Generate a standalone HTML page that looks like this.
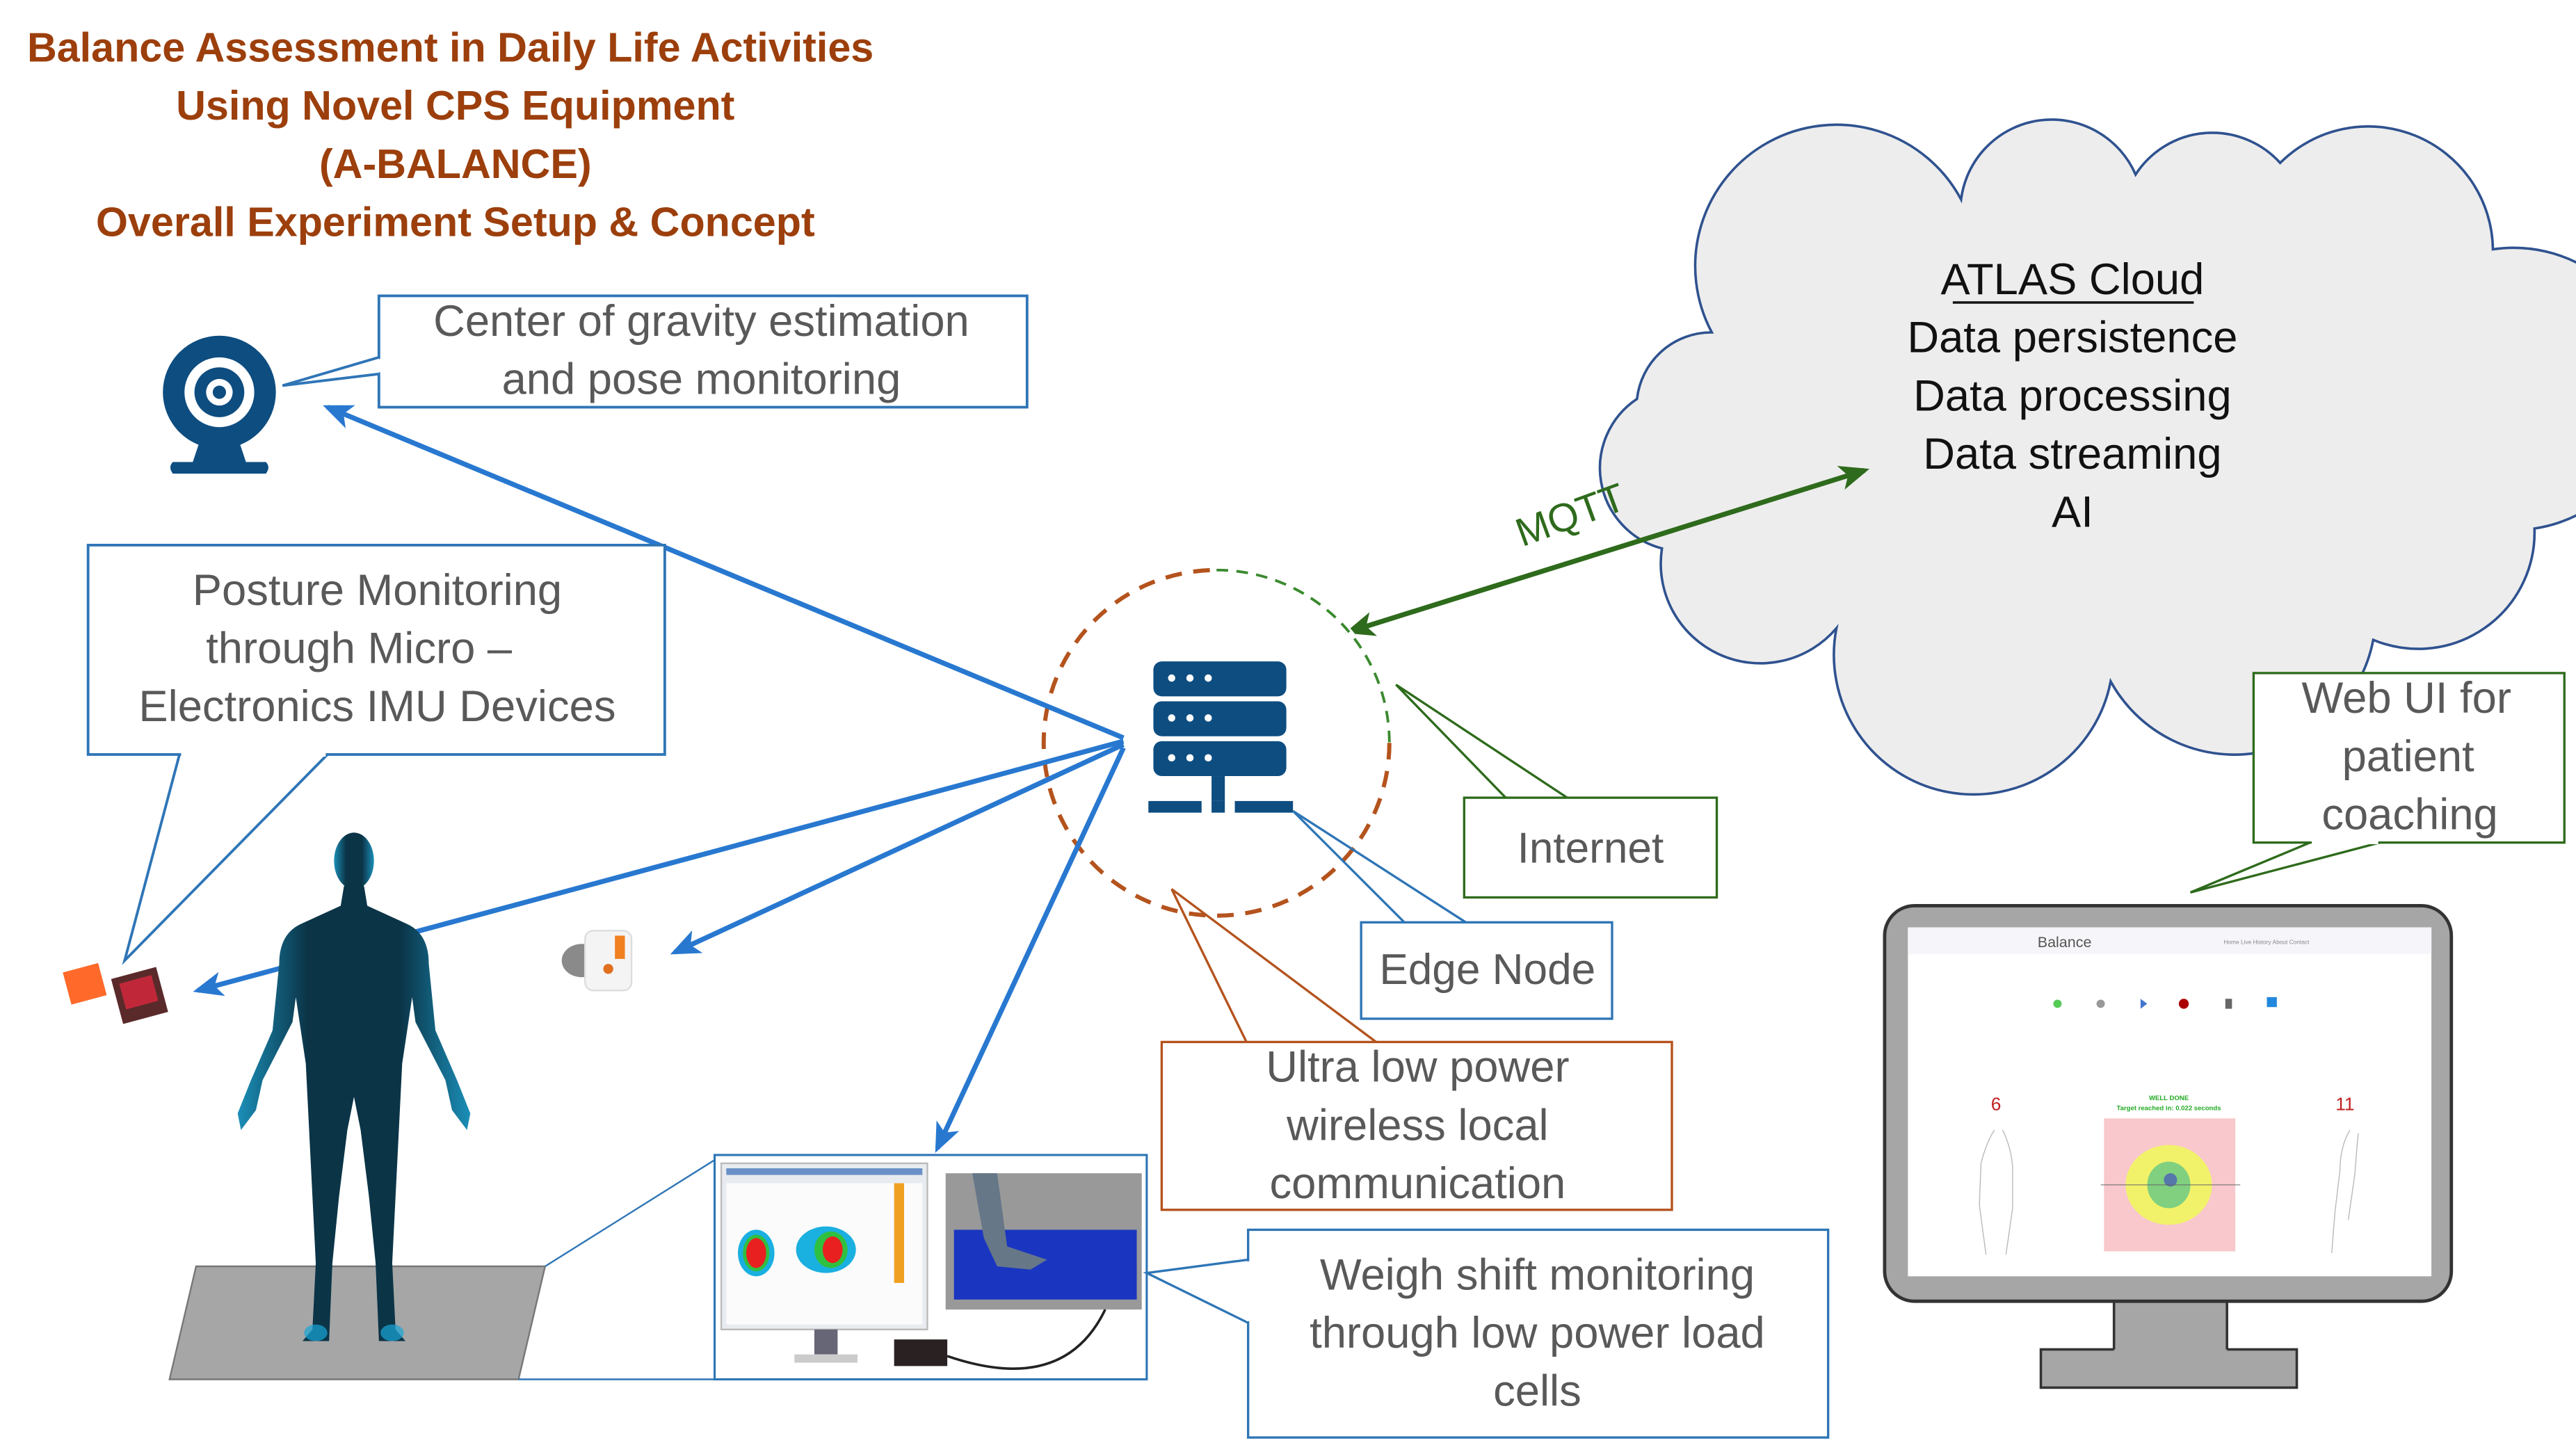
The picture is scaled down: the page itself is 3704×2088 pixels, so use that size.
<!DOCTYPE html>
<html><head><meta charset="utf-8"><style>
html,body{margin:0;padding:0;background:#fff;}
svg{display:block;}
text{font-family:"Liberation Sans",sans-serif;}
</style></head><body>
<svg width="3704" height="2088" viewBox="0 0 1550 873.7" xmlns="http://www.w3.org/2000/svg">
<defs>
<marker id="ab" markerWidth="6" markerHeight="6" refX="5" refY="3" orient="auto" markerUnits="strokeWidth"><path d="M0,0.5 L6,3 L0,5.5 L1.5,3 Z" fill="#2878d0"/></marker>
<marker id="ag" markerWidth="6" markerHeight="6" refX="5" refY="3" orient="auto" markerUnits="strokeWidth"><path d="M0,0.5 L6,3 L0,5.5 L1.5,3 Z" fill="#2e6b1c"/></marker>
<marker id="ags" markerWidth="6" markerHeight="6" refX="1" refY="3" orient="auto" markerUnits="strokeWidth"><path d="M6,0.5 L0,3 L6,5.5 L4.5,3 Z" fill="#2e6b1c"/></marker>
<linearGradient id="hb" x1="0" y1="0" x2="1" y2="0"><stop offset="0" stop-color="#1b8fb8"/><stop offset="0.3" stop-color="#0b3447"/><stop offset="0.7" stop-color="#0b3447"/><stop offset="1" stop-color="#1b8fb8"/></linearGradient>
</defs>

<!-- Title -->
<g fill="#9c3f0c" font-size="24.8" font-weight="bold" text-anchor="middle">
<text x="271" y="37">Balance Assessment in Daily Life Activities</text>
<text x="274" y="72">Using Novel CPS Equipment</text>
<text x="274" y="107">(A-BALANCE)</text>
<text x="274" y="142">Overall Experiment Setup &amp; Concept</text>
</g>

<!-- Cloud -->
<path d="M1030,200 A80,80 0 0 1 1180,120 A55,55 0 0 1 1285,105 A55,55 0 0 1 1372,98 A75,75 0 0 1 1500,150 A75,75 0 0 1 1525,318 A70,70 0 0 1 1428,385 A85,85 0 0 1 1270,410 A80,80 0 0 1 1105,378 A60,60 0 0 1 1000,330 A50,50 0 0 1 985,240 A45,45 0 0 1 1030,200 Z" fill="#ededed" stroke="#2f528f" stroke-width="1.5"/>
<g font-size="26.5" text-anchor="middle" fill="#111">
<text x="1247" y="177">ATLAS Cloud</text>
<line x1="1175" y1="182" x2="1320" y2="182" stroke="#111" stroke-width="1.5"/>
<text x="1247" y="212">Data persistence</text>
<text x="1247" y="247">Data processing</text>
<text x="1247" y="282">Data streaming</text>
<text x="1247" y="317">AI</text>
</g>

<!-- MQTT -->
<text x="945" y="318" font-size="24" fill="#2e6b1c" text-anchor="middle" transform="rotate(-20 945 310)">MQTT</text>
<line x1="812" y1="380" x2="1122" y2="283" stroke="#2e6b1c" stroke-width="3" marker-end="url(#ag)" marker-start="url(#ags)"/>

<!-- Dashed circle -->
<circle cx="732" cy="447" r="104" fill="none" stroke="#b4531d" stroke-width="2.5" stroke-dasharray="10,7"/>
<path d="M732,343 A104,104 0 0 1 836,447" fill="none" stroke="#fff" stroke-width="4"/>
<path d="M732,343 A104,104 0 0 1 836,447" fill="none" stroke="#3a8a2e" stroke-width="1.6" stroke-dasharray="7,5"/>

<!-- Server icon -->
<g fill="#0e4d80">
<rect x="694" y="398" width="80" height="21" rx="5"/>
<rect x="694" y="422" width="80" height="21" rx="5"/>
<rect x="694" y="446" width="80" height="21" rx="5"/>
<rect x="729" y="467" width="8" height="15"/>
<rect x="691" y="482" width="32" height="7"/>
<rect x="729" y="482" width="8" height="7"/>
<rect x="743" y="482" width="35" height="7"/>
</g>
<g fill="#fff">
<circle cx="705" cy="408" r="2.2"/><circle cx="716" cy="408" r="2.2"/><circle cx="727" cy="408" r="2.2"/>
<circle cx="705" cy="432" r="2.2"/><circle cx="716" cy="432" r="2.2"/><circle cx="727" cy="432" r="2.2"/>
<circle cx="705" cy="456" r="2.2"/><circle cx="716" cy="456" r="2.2"/><circle cx="727" cy="456" r="2.2"/>
</g>

<!-- Camera icon -->
<g>
<circle cx="132" cy="236" r="34" fill="#0e4d80"/>
<circle cx="132" cy="236" r="21" fill="#fff"/>
<circle cx="132" cy="236" r="15" fill="#0e4d80"/>
<circle cx="132" cy="236" r="8" fill="#fff"/>
<circle cx="132" cy="236" r="4" fill="#0e4d80"/>
<path d="M120,266 L144,266 L148,278 L160,278 Q163,281 160,285 L104,285 Q101,281 104,278 L116,278 Z" fill="#0e4d80"/>
</g>

<!-- Blue arrows -->
<g stroke="#2878d0" stroke-width="3" fill="none">
<line x1="676" y1="444" x2="197" y2="245" marker-end="url(#ab)"/>
<line x1="676" y1="446" x2="119" y2="596" marker-end="url(#ab)"/>
<line x1="676" y1="448" x2="406" y2="573" marker-end="url(#ab)"/>
<line x1="676" y1="450" x2="564" y2="691" marker-end="url(#ab)"/>
</g>

<!-- Center of gravity box -->
<rect x="228" y="178" width="390" height="67" fill="#fff" stroke="#2e75b6" stroke-width="1.6"/>
<path d="M228,215 L170,232 L228,225" fill="#fff" stroke="#2e75b6" stroke-width="1.6"/>
<line x1="228" y1="216" x2="228" y2="224" stroke="#fff" stroke-width="2"/>
<g font-size="26.5" fill="#595959" text-anchor="middle">
<text x="422" y="202">Center of gravity estimation</text>
<text x="422" y="237">and pose monitoring</text>
</g>

<!-- Posture box -->
<rect x="53" y="328" width="347" height="126" fill="#fff" stroke="#2e75b6" stroke-width="1.6"/>
<path d="M108,454 L75,578 L197,454" fill="none" stroke="#2e75b6" stroke-width="1.6"/>
<line x1="109" y1="454" x2="196" y2="454" stroke="#fff" stroke-width="2.5"/>
<g font-size="26.5" fill="#595959" text-anchor="middle">
<text x="227" y="364">Posture Monitoring</text>
<text x="216" y="399">through Micro –</text>
<text x="227" y="434">Electronics IMU Devices</text>
</g>

<!-- IMU devices -->
<rect x="40" y="582" width="22" height="20" fill="#ff6a2a" transform="rotate(-15 51 592)"/>
<rect x="70" y="585" width="28" height="28" fill="#5a2a2a" transform="rotate(-15 84 599)"/>
<rect x="74" y="589" width="20" height="16" fill="#c0283a" transform="rotate(-15 84 599)"/>
<!-- wrist sensor -->
<ellipse cx="350" cy="578" rx="12" ry="10" fill="#8a8a8a"/>
<rect x="352" y="560" width="28" height="36" rx="5" fill="#f4f4f4" stroke="#ddd"/>
<rect x="370" y="563" width="6" height="14" fill="#f08020"/>
<circle cx="366" cy="583" r="3" fill="#e07020"/>

<!-- floor plate -->
<path d="M118,762 L328,762 L312,830 L102,830 Z" fill="#a6a6a6" stroke="#777" stroke-width="1"/>
<line x1="328" y1="762" x2="430" y2="698" stroke="#2e75b6" stroke-width="1"/>
<line x1="312" y1="830" x2="430" y2="830" stroke="#2e75b6" stroke-width="1"/>

<!-- Human figure -->
<g fill="url(#hb)">
<ellipse cx="213" cy="518" rx="12" ry="17"/>
<path d="M207,533 L219,533 L221,545 L245,556 Q258,562 258,580 L262,620 L275,650 L283,670 L281,680 L272,668 L268,650 L250,615 L248,600 L242,640 L240,680 L238,720 L236,760 L238,800 L244,807 L228,807 L226,760 L222,720 L217,680 L213,660 L209,680 L204,720 L200,760 L198,807 L182,807 L188,800 L190,760 L188,720 L186,680 L184,640 L178,600 L176,615 L158,650 L154,668 L145,680 L143,670 L151,650 L164,620 L168,580 Q168,562 181,556 L205,545 Z"/>
</g>
<g fill="#1aa6d8" opacity="0.7">
<ellipse cx="190" cy="802" rx="7" ry="5"/><ellipse cx="236" cy="802" rx="7" ry="5"/>
</g>

<!-- Photo box -->
<rect x="430" y="695" width="260" height="135" fill="#fff" stroke="#2e75b6" stroke-width="1.3"/>
<rect x="434" y="700" width="124" height="100" fill="#e8ecf0" stroke="#bbb"/>
<rect x="437" y="712" width="118" height="85" fill="#fbfbfb"/>
<rect x="437" y="703" width="118" height="4" fill="#6a90c8"/>
<ellipse cx="455" cy="754" rx="11" ry="14" fill="#1ab0e0"/><ellipse cx="455" cy="754" rx="8" ry="11" fill="#30c040"/><ellipse cx="455" cy="754" rx="6" ry="9" fill="#e82020"/>
<ellipse cx="497" cy="752" rx="18" ry="14" fill="#1ab0e0"/><ellipse cx="500" cy="752" rx="10" ry="11" fill="#30c040"/><ellipse cx="501" cy="752" rx="6" ry="8" fill="#e82020"/>
<rect x="538" y="712" width="6" height="60" fill="#f0a020"/>
<rect x="490" y="800" width="14" height="15" fill="#667"/>
<rect x="478" y="815" width="38" height="5" fill="#ccc"/>
<rect x="538" y="806" width="32" height="16" fill="#2a2222"/>
<rect x="569" y="706" width="118" height="82" fill="#999"/>
<rect x="574" y="740" width="110" height="42" fill="#1a36c0"/>
<path d="M585,706 L600,706 L606,750 L630,758 L620,764 L600,762 L592,745 Z" fill="#667788"/>
<path d="M570,816 Q640,840 665,788" fill="none" stroke="#222" stroke-width="1.5"/>

<!-- Internet box -->
<rect x="881" y="480" width="152" height="60" fill="#fff" stroke="#2e6b1c" stroke-width="1.4"/>
<path d="M906,480 L840,412 L943,480" fill="none" stroke="#2e6b1c" stroke-width="1.4"/>
<text x="957" y="519" font-size="26" fill="#595959" text-anchor="middle">Internet</text>

<!-- Edge Node box -->
<rect x="819" y="555" width="151" height="58" fill="#fff" stroke="#2e75b6" stroke-width="1.4"/>
<path d="M845,555 L778,488 L882,555" fill="none" stroke="#2e75b6" stroke-width="1.4"/>
<text x="895" y="592" font-size="26" fill="#595959" text-anchor="middle">Edge Node</text>

<!-- Ultra low power box -->
<rect x="699" y="627" width="307" height="101" fill="#fff" stroke="#b4531d" stroke-width="1.4"/>
<path d="M750,627 L705,535 L828,627" fill="none" stroke="#b4531d" stroke-width="1.4"/>
<g font-size="26.5" fill="#595959" text-anchor="middle">
<text x="853" y="651">Ultra low power</text>
<text x="853" y="686">wireless local</text>
<text x="853" y="721">communication</text>
</g>

<!-- Weigh shift box -->
<rect x="751" y="740" width="349" height="125" fill="#fff" stroke="#2e75b6" stroke-width="1.4"/>
<path d="M751,758 L690,766 L751,796" fill="none" stroke="#2e75b6" stroke-width="1.4"/>
<line x1="751" y1="759" x2="751" y2="795" stroke="#fff" stroke-width="2"/>
<g font-size="26.5" fill="#595959" text-anchor="middle">
<text x="925" y="776">Weigh shift monitoring</text>
<text x="925" y="811">through low power load</text>
<text x="925" y="846">cells</text>
</g>

<!-- Web UI box -->
<rect x="1356" y="405" width="187" height="102" fill="#fff" stroke="#2e6b1c" stroke-width="1.4"/>
<path d="M1390,507 L1318,537 L1432,507" fill="none" stroke="#2e6b1c" stroke-width="1.4"/>
<line x1="1391" y1="507" x2="1431" y2="507" stroke="#fff" stroke-width="2"/>
<g font-size="26.5" fill="#595959" text-anchor="middle">
<text x="1448" y="429">Web UI for</text>
<text x="1449" y="464">patient</text>
<text x="1450" y="499">coaching</text>
</g>

<!-- Monitor -->
<rect x="1228" y="812" width="154" height="23" fill="#a6a6a6" stroke="#333" stroke-width="1.5"/>
<rect x="1272" y="780" width="68" height="34" fill="#a6a6a6"/>
<line x1="1272" y1="782" x2="1272" y2="812" stroke="#333" stroke-width="1.5"/>
<line x1="1340" y1="782" x2="1340" y2="812" stroke="#333" stroke-width="1.5"/>
<rect x="1134" y="545" width="341" height="238" rx="18" fill="#a6a6a6" stroke="#333" stroke-width="2"/>
<rect x="1148" y="558" width="315" height="210" fill="#fff"/>
<rect x="1148" y="558" width="315" height="16" fill="#f6f6fa"/>
<text x="1226" y="570" font-size="9" fill="#555">Balance</text>
<text x="1338" y="568" font-size="3.5" fill="#888">Home  Live  History  About  Contact</text>
<circle cx="1238" cy="604" r="2.5" fill="#5c5"/><circle cx="1264" cy="604" r="2.5" fill="#999"/>
<path d="M1288,601 L1292,604 L1288,607 Z" fill="#47c"/><circle cx="1314" cy="604" r="3" fill="#a00"/>
<rect x="1339" y="601" width="4" height="6" fill="#666"/><rect x="1364" y="600" width="6" height="6" fill="#28d"/>
<text x="1201" y="668" font-size="11" fill="#c02020" text-anchor="middle">6</text>
<text x="1411" y="668" font-size="11" fill="#c02020" text-anchor="middle">11</text>
<text x="1305" y="662" font-size="4" fill="#2a2" text-anchor="middle" font-weight="bold">WELL DONE</text>
<text x="1305" y="668" font-size="4" fill="#2a2" text-anchor="middle" font-weight="bold">Target reached in: 0.022 seconds</text>
<rect x="1266" y="673" width="79" height="80" fill="#f8c8cc"/>
<ellipse cx="1305" cy="713" rx="26" ry="24" fill="#f2f26a"/>
<ellipse cx="1305" cy="713" rx="13" ry="14" fill="#80d080"/>
<circle cx="1306" cy="710" r="4" fill="#57a"/>
<line x1="1264" y1="713" x2="1348" y2="713" stroke="#666" stroke-width="0.4"/>
<path d="M1200,680 q-5,8 -8,20 l-1,25 l4,30 M1205,680 q5,10 6,22 l0,25 l-4,28" fill="none" stroke="#bbb" stroke-width="0.6"/>
<path d="M1414,680 q-6,10 -6,24 l-3,25 l-2,25 M1419,682 q-1,10 -2,24 l-4,28" fill="none" stroke="#bbb" stroke-width="0.6"/>
</svg>
</body></html>
